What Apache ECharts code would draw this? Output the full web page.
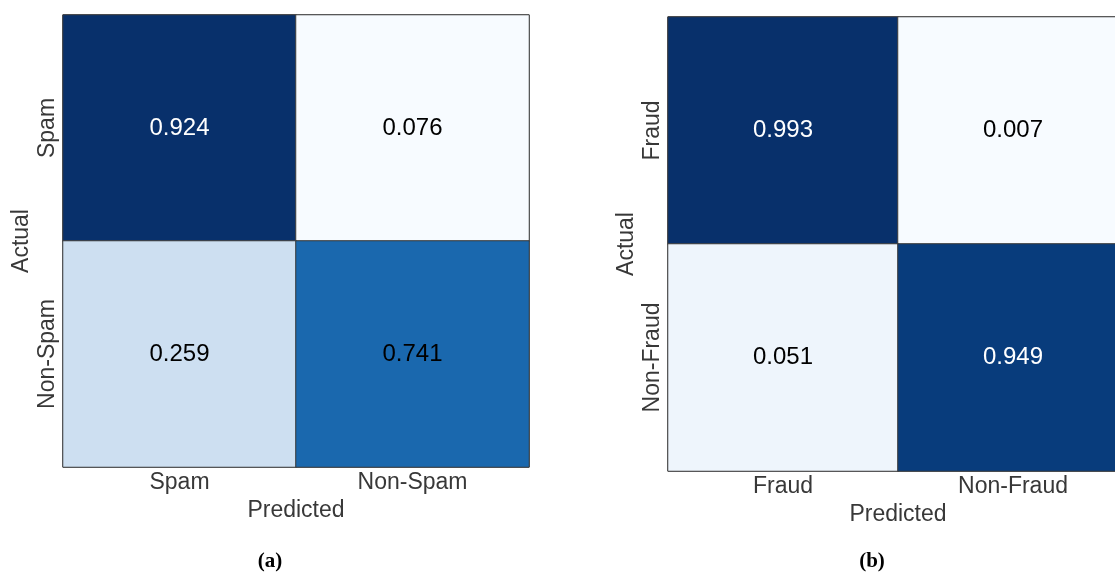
<!DOCTYPE html>
<html>
<head>
<meta charset="utf-8">
<script src="https://cdn.jsdelivr.net/npm/echarts@6/dist/echarts.min.js"></script>
<style>
  html, body { margin: 0; padding: 0; background: #ffffff; }
  #chart { width: 1115px; height: 572px; }
</style>
</head>
<body>
<div id="chart"></div>
<script>
// Confusion matrices (row = actual class, column = predicted class), normalised by row.
const spamClasses = ['Spam', 'Non-Spam'];
const spamMatrix = [
  [0.924, 0.076],
  [0.259, 0.741]
];

const fraudClasses = ['Fraud', 'Non-Fraud'];
const fraudMatrix = [
  [0.993, 0.007],
  [0.051, 0.949]
];

const panelCaptions = ['(a)', '(b)'];
const xAxisTitle = 'Predicted';
const yAxisTitle = 'Actual';

// Sequential "Blues" colour ramp
const blues = ['#f7fbff', '#deebf7', '#c6dbef', '#9ecae1', '#6baed6',
               '#4292c6', '#2171b5', '#08519c', '#08306b'];

const FONT = 'Liberation Sans, Arial, Helvetica, sans-serif';
const TEXT_GREY = '#383838';

function toCells(matrix) {
  const cells = [];
  matrix.forEach((row, r) => row.forEach((v, c) => cells.push([c, r, v])));
  return cells;
}

function range(matrix) {
  const flat = matrix.flat();
  return [Math.min(...flat), Math.max(...flat)];
}

const panels = [
  { classes: spamClasses, matrix: spamMatrix, grid: { left: 63, top: 15, width: 466, height: 452 }, captionX: 270 },
  { classes: fraudClasses, matrix: fraudMatrix, grid: { left: 668, top: 17, width: 460, height: 454 }, captionX: 872 }
];

const option = {
  backgroundColor: '#ffffff',
  animation: false,
  grid: panels.map(p => Object.assign({
    show: true, borderColor: '#3a3a3a', borderWidth: 1,
    containLabel: false, outerBoundsMode: 'none'
  }, p.grid)),
  xAxis: panels.map((p, i) => ({
    type: 'category',
    gridIndex: i,
    data: p.classes,
    position: 'bottom',
    name: xAxisTitle,
    nameLocation: 'middle',
    nameGap: 29,
    nameTextStyle: { fontFamily: FONT, fontSize: 23, color: TEXT_GREY },
    axisLine: { show: false },
    axisTick: { show: false },
    splitLine: { show: false },
    axisLabel: { fontFamily: FONT, fontSize: 23, color: TEXT_GREY, margin: 4 }
  })),
  yAxis: panels.map((p, i) => ({
    type: 'category',
    gridIndex: i,
    data: p.classes,
    inverse: true,
    name: yAxisTitle,
    nameLocation: 'middle',
    nameRotate: 90,
    nameGap: 30,
    nameTextStyle: { fontFamily: FONT, fontSize: 23, color: TEXT_GREY },
    axisLine: { show: false },
    axisTick: { show: false },
    splitLine: { show: false },
    axisLabel: { fontFamily: FONT, fontSize: 23, color: TEXT_GREY, rotate: 90, margin: 4,
                 align: 'center', verticalAlign: 'bottom' }
  })),
  visualMap: panels.map((p, i) => {
    const [lo, hi] = range(p.matrix);
    return {
      show: false,
      type: 'continuous',
      seriesIndex: i,
      min: lo,
      max: hi,
      inRange: { color: blues }
    };
  }),
  series: panels.map((p, i) => ({
    type: 'heatmap',
    xAxisIndex: i,
    yAxisIndex: i,
    data: toCells(p.matrix),
    itemStyle: { borderColor: '#3a3a3a', borderWidth: 1 },
    label: {
      show: true,
      fontFamily: FONT,
      fontSize: 24,
      formatter: d => d.value[2].toFixed(3),
      color: '#000000'
    },
    emphasis: { disabled: true }
  })),
  graphic: panels.map((p, i) => ({
    type: 'text',
    x: p.captionX,
    y: 562,
    style: {
      text: panelCaptions[i],
      font: 'bold 21px "Liberation Serif", "DejaVu Serif", serif',
      fill: '#000000',
      textAlign: 'center',
      textVerticalAlign: 'middle'
    }
  }))
};

// Light text on the darkest cells, dark text elsewhere
option.series.forEach((s, i) => {
  const [lo, hi] = range(panels[i].matrix);
  s.data = s.data.map(cell => {
    const t = (cell[2] - lo) / (hi - lo);
    return { value: cell, label: { color: t > 0.85 ? '#ffffff' : '#000000' } };
  });
});

const chart = echarts.init(document.getElementById('chart'), null, { renderer: 'canvas' });
chart.setOption(option);
</script>
</body>
</html>
